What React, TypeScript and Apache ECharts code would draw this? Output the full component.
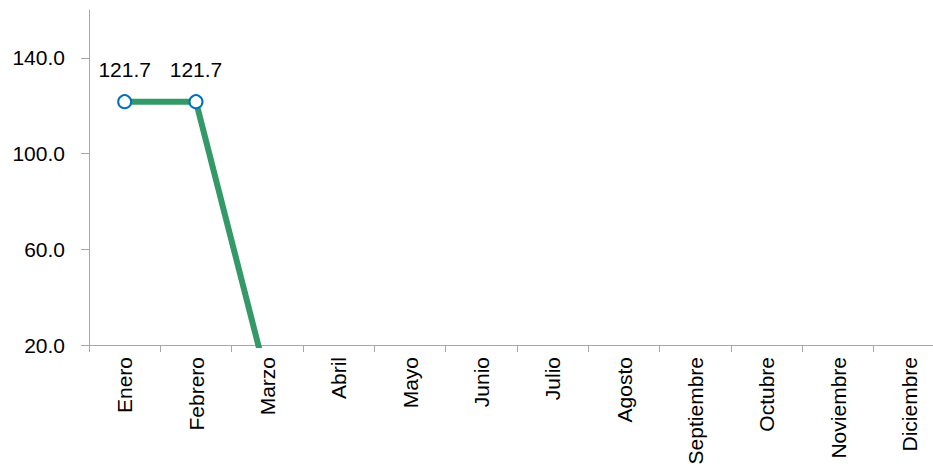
import React, { useEffect, useRef } from "react";
import * as echarts from "echarts";

const months = [
  "Enero", "Febrero", "Marzo", "Abril", "Mayo", "Junio",
  "Julio", "Agosto", "Septiembre", "Octubre", "Noviembre", "Diciembre",
];
const values: (number | null)[] = [121.7, 121.7, 5.2, null, null, null, null, null, null, null, null, null];
const yTicks = [20, 60, 100, 140];
const yMin = 20;
const yMax = 160;

const FONT = "'Liberation Sans', Arial, sans-serif";
const FS = 21;

export default function App() {
  const ref = useRef<HTMLDivElement>(null);
  useEffect(() => {
    if (!ref.current) return;
    const chart = echarts.init(ref.current, null, { renderer: "svg" });
    chart.setOption({
      animation: false,
      backgroundColor: "#ffffff",
      grid: { left: 89, right: 0, top: 10, bottom: 122, containLabel: false, outerBoundsMode: "none" },
      xAxis: {
        type: "category",
        data: months,
        boundaryGap: true,
        axisLine: { show: true, lineStyle: { color: "#a6a6ad", width: 1 } },
        axisTick: { show: true, length: 7, lineStyle: { color: "#a6a6ad" } },
        axisLabel: {
          interval: 0,
          rotate: 90,
          margin: 12,
          color: "#000000",
          fontFamily: FONT,
          fontSize: FS,
        },
        splitLine: { show: false },
      },
      yAxis: {
        type: "value",
        min: yMin,
        max: yMax,
        axisLine: { show: true, lineStyle: { color: "#a6a6ad", width: 1 } },
        axisTick: { show: true, length: 8, customValues: yTicks, lineStyle: { color: "#a6a6ad" } },
        axisLabel: {
          customValues: yTicks,
          margin: 24,
          color: "#000000",
          fontFamily: FONT,
          fontSize: FS,
          formatter: (v: number) => v.toFixed(1),
        },
        splitLine: { show: false },
      },
      series: [
        {
          type: "line",
          data: values,
          clip: true,
          connectNulls: false,
          symbol: "circle",
          symbolSize: 13,
          showSymbol: true,
          lineStyle: { color: "#339966", width: 6 },
          itemStyle: { color: "#ffffff", borderColor: "#0070C0", borderWidth: 2 },
          label: {
            show: true,
            position: "top",
            distance: 14,
            color: "#000000",
            fontFamily: FONT,
            fontSize: FS,
            formatter: (p: any) => (p.value == null ? "" : Number(p.value).toFixed(1)),
          },
          z: 3,
        },
      ],
    });
    return () => chart.dispose();
  }, []);
  return (
    <div style={{ position: "fixed", left: 0, top: 0, width: 933, height: 467, overflow: "hidden", background: "#fff" }}>
      <div ref={ref} style={{ width: 945, height: 467 }} />
    </div>
  );
}
